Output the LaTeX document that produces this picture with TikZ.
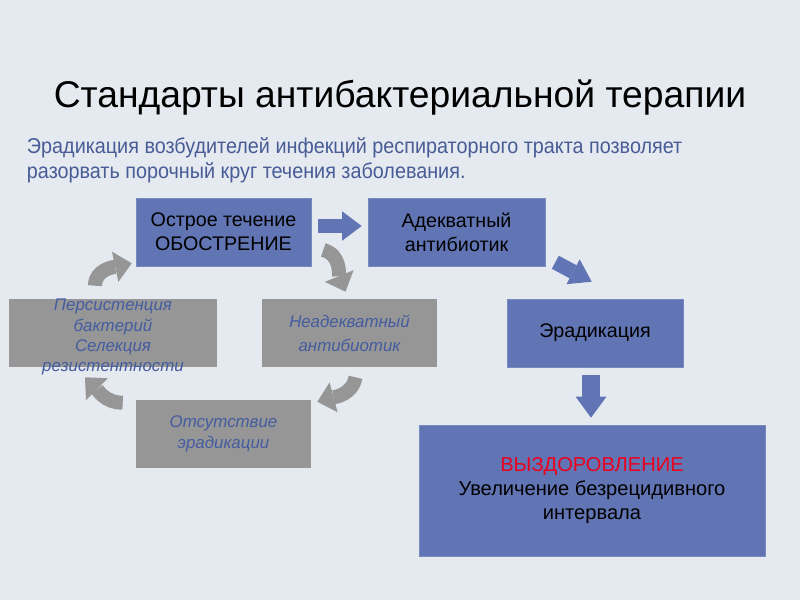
\documentclass[tikz,border=0pt]{standalone}
\usepackage{fontspec}
\setmainfont{Liberation Sans}
\newfontfamily\subfont[FakeStretch=0.92]{Liberation Sans}
\usetikzlibrary{arrows.meta,positioning,calc}

\definecolor{bgcol}{RGB}{229,233,240}
\definecolor{boxblue}{RGB}{97,117,180}
\definecolor{boxgray}{RGB}{150,150,150}
\definecolor{txtblue}{RGB}{68,92,160}
\definecolor{subblue}{RGB}{72,92,150}
\definecolor{redtxt}{RGB}{235,0,30}

\begin{document}
\begin{tikzpicture}[
    x=0.025cm, y=0.025cm,
    bluebox/.style={rectangle, fill=boxblue, draw=boxblue!85!white, minimum width=4.375cm, minimum height=1.7cm, inner sep=0pt, align=center, font=\fontsize{14}{17}\selectfont},
    graytext/.style={text=txtblue, align=center, font=\fontsize{12}{14.5}\selectfont\itshape},
    graybox/.style={rectangle, fill=boxgray, minimum width=4.375cm, minimum height=1.7cm, inner sep=0pt, graytext},
    bluearrow/.style={boxblue, line width=10.5pt, -{Triangle[width=21pt,length=14pt,line width=0pt]}},
    cycarrow/.style={boxgray, line width=10pt, -{Triangle[width=22pt,length=12pt,line width=0pt]}}
]
    % Background
    \fill[bgcol] (0,0) rectangle (800,600);

    % Title and subtitle
    \node[font=\fontsize{26.5}{30}\selectfont] (title) at (400,502) {Стандарты антибактериальной терапии};
    \node[anchor=north west, align=left, text=subblue, font=\subfont\fontsize{15.3}{17.8}\selectfont] (sub) at (22,467)
        {Эрадикация возбудителей инфекций респираторного тракта позволяет\\разорвать порочный круг течения заболевания.};

    % Upper row
    \node[bluebox] (ostr) at (223.5,368) {Острое течение\\ОБОСТРЕНИЕ};
    \node[bluebox, minimum width=4.425cm] (adek) at (456.5,368) {Адекватный\\антибиотик};

    % Middle row
    \node[graybox, minimum width=5.2cm,
          label={[graytext, yshift=-3pt]center:Персистенция\\бактерий\\Селекция\\резистентности}] (pers) at (113,267) {};
    \node[graybox, font=\fontsize{12}{17}\selectfont\itshape] (nead) at (349.5,267) {Неадекватный\\антибиотик};
    \node[bluebox, minimum width=4.4cm] (erad) at (595,267) {Эрадикация};

    % Lower row
    \node[graybox] (otsu) at (223.5,166) {Отсутствие\\эрадикации};
    \node[bluebox, minimum width=8.65cm, minimum height=3.275cm, font=\fontsize{14.3}{17.2}\selectfont] (vyzd) at (592,109.5)
        {\textcolor{redtxt}{ВЫЗДОРОВЛЕНИЕ}\\Увеличение безрецидивного\\интервала};

    % Way out
    \draw[bluearrow] ($(ostr.east)+(7,6)$) -- ($(adek.west)+(-6,6)$);
    \draw[bluearrow, -{Triangle[width=20pt,length=15pt,line width=0pt]}] ($(adek.south east)+(10,4)$) -- ($(erad.north west)+(85,17)$);
    \draw[bluearrow, line width=13pt, -{Triangle[width=22pt,length=15pt,line width=0pt]}]
        ($(erad.south)+(-4,-8)$) -- ($(vyzd.north)+(-1,7)$);

    % Vicious circle
    \draw[cycarrow] ($(ostr.east)+(12,-18)$) to[out=-15, in=112] ($(nead.north)+(-4,7)$);
    \draw[cycarrow] ($(nead.south)+(6,-10)$) to[out=-100, in=15] ($(otsu.north east)+(6,-2)$);
    \draw[cycarrow] ($(otsu.north west)+(-13,-3)$) to[out=180, in=-45] ($(pers.south)+(-28,-10)$);
    \draw[cycarrow] ($(pers.north)+(-18,13)$) to[out=90, in=192] ($(ostr.south west)+(-4,3)$);
\end{tikzpicture}
\end{document}
